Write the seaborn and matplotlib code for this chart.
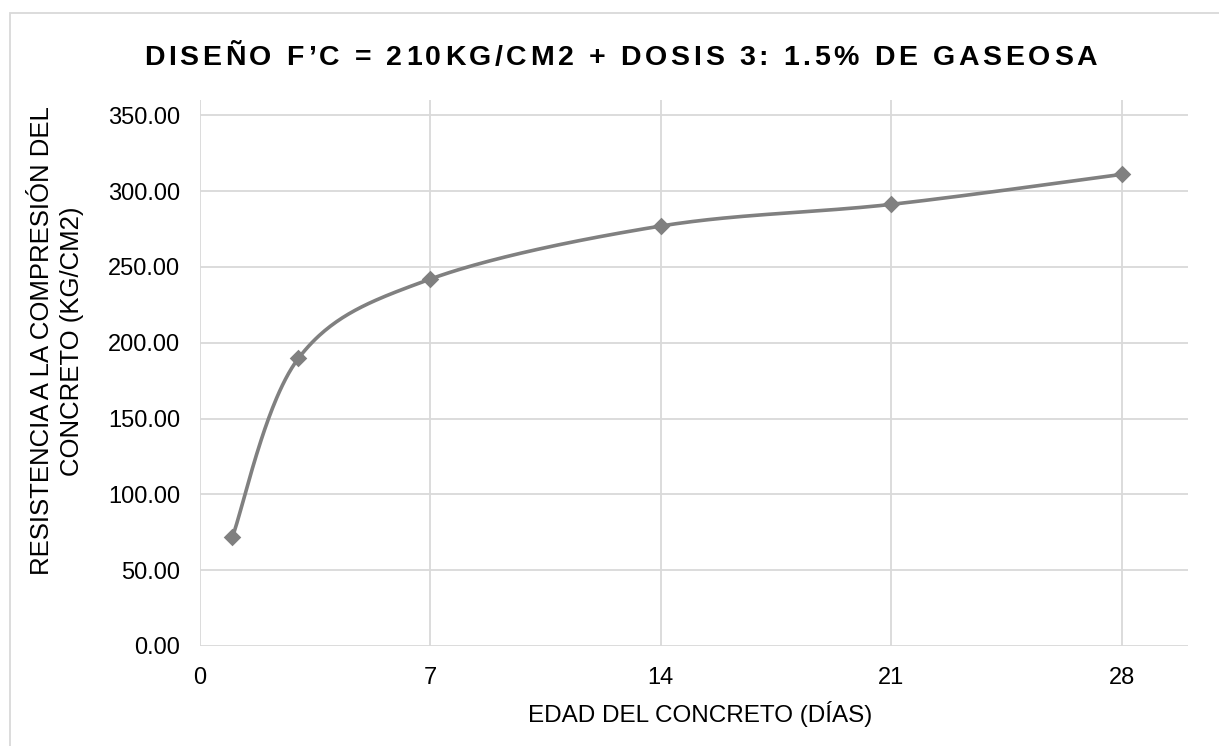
import numpy as np
import pandas as pd
import matplotlib
matplotlib.use("Agg")
import matplotlib.pyplot as plt
from matplotlib.patches import Rectangle
import seaborn as sns

# ---- data ----
dias = [1, 3, 7, 14, 21, 28]
resistencia = [72.0, 189.6, 241.9, 276.9, 291.2, 311.0]
x_ticks = [0, 7, 14, 21, 28]
y_ticks = [0, 50, 100, 150, 200, 250, 300, 350]
titulo = "DISEÑO F’C = 210KG/CM2 + DOSIS 3: 1.5% DE GASEOSA"
x_label = "EDAD DEL CONCRETO (DÍAS)"
y_label = "RESISTENCIA A LA COMPRESIÓN DEL\nCONCRETO (KG/CM2)"

sns.set_theme(style="white")
plt.rcParams["font.family"] = ["Liberation Sans", "DejaVu Sans"]

W, H = 1219, 746
fig = plt.figure(figsize=(W / 100, H / 100), dpi=100)
fig.patch.set_facecolor("white")

# outer chart border (cropped at right/bottom)
fig.add_artist(Rectangle((9.5 / W, -0.05), 1.2, (H - 13.5) / H + 0.05,
                         transform=fig.transFigure, fill=False,
                         edgecolor="#d9d9d9", linewidth=1.3))

left, right, top, bottom = 199.5, 1188, 100, 646
ax = fig.add_axes([left / W, (H - bottom) / H, (right - left) / W, (bottom - top) / H])

# Excel-style smoothed line (Catmull-Rom / Bezier through the data points)
def smooth(xs, ys, n=60):
    P = np.column_stack([xs, ys]).astype(float)
    Pext = np.vstack([P[0], P, P[-1]])
    out = []
    t = np.linspace(0, 1, n)[:, None]
    for i in range(len(P) - 1):
        p0, p3 = P[i], P[i + 1]
        c1 = p0 + (Pext[i + 2] - Pext[i]) / 6.0
        c2 = p3 - (Pext[i + 3] - Pext[i + 1]) / 6.0
        seg = ((1 - t) ** 3) * p0 + 3 * ((1 - t) ** 2) * t * c1 + 3 * (1 - t) * t ** 2 * c2 + t ** 3 * p3
        out.append(seg if i == 0 else seg[1:])
    return np.vstack(out)

curve = smooth(dias, resistencia)
df_curve = pd.DataFrame({"x": curve[:, 0], "y": curve[:, 1]})
df_pts = pd.DataFrame({"dias": dias, "res": resistencia})

sns.lineplot(data=df_curve, x="x", y="y", sort=False, estimator=None,
             color="#808080", linewidth=2.6, ax=ax, zorder=3)
sns.scatterplot(data=df_pts, x="dias", y="res", marker="D", s=80,
                color="#808080", linewidth=0, ax=ax, zorder=4)

ax.set_xlim(0, 30)
ax.set_ylim(0, 360)
ax.set_xticks(x_ticks)
ax.set_yticks(y_ticks)
ax.set_xticklabels([str(v) for v in x_ticks])
ax.set_yticklabels([f"{v:.2f}" for v in y_ticks])
ax.grid(True, color="#d9d9d9", linewidth=1.3)
ax.set_axisbelow(True)
for s in ax.spines.values():
    s.set_visible(False)
ax.tick_params(axis="both", length=0, labelsize=17, colors="#000000")
ax.tick_params(axis="x", pad=15)
ax.tick_params(axis="y", pad=14)
ax.set_xlabel("")
ax.set_ylabel("")

fig.text(700 / W, 24 / H, x_label, ha="center", va="baseline", fontsize=17.5, color="#000000")
fig.text(57 / W, (H - 341) / H, y_label, ha="center", va="center", rotation=90,
         multialignment="center", fontsize=18.5, color="#000000", linespacing=1.3)

# title with letter spacing, characters placed individually
fig.canvas.draw()
renderer = fig.canvas.get_renderer()
fs_title = 20.5
def adv(s):
    t = fig.text(0, 0, s, fontsize=fs_title, fontweight="bold")
    w = t.get_window_extent(renderer).width
    t.remove()
    return w
base = adv("HH")
widths = [adv("H" + ch + "H") - base for ch in titulo]
x0, x1 = 144, 1097
spacing = ((x1 - x0) - sum(widths)) / (len(titulo) - 1)
xc = x0
for ch, w in zip(titulo, widths):
    fig.text(xc / W, (H - 65) / H, ch, fontsize=fs_title, fontweight="bold",
             ha="left", va="baseline", color="#000000")
    xc += w + spacing

fig.savefig("out.png", dpi=100, facecolor="white")
